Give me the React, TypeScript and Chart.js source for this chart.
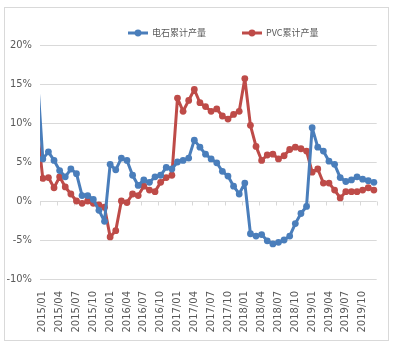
import { useEffect, useRef } from 'react';
import { Chart, registerables } from 'chart.js';

Chart.register(...registerables);

// Categories: leading 2014/12 (partly outside the plot, as in the reference), then 2015/01 .. 2019/12
const MONTHS: string[] = (() => {
  const out: string[] = ['2014/12'];
  for (let y = 2015; y <= 2019; y++) {
    for (let m = 1; m <= 12; m++) out.push(`${y}/${String(m).padStart(2, '0')}`);
  }
  return out;
})();

const SERIES_NAMES = ['电石累计产量', 'PVC累计产量'];
const SERIES_COLORS = ['#4a7ebb', '#be4b48'];

// 电石累计产量 (%)
const CARBIDE: number[] = [
  16.3,
  5.4, 6.3, 5.2, 3.9, 3.1, 4.1, 3.5, 0.7, 0.7, 0.2, -1.2, -2.6,
  4.7, 4.0, 5.5, 5.2, 3.3, 2.0, 2.7, 2.4, 3.1, 3.3, 4.3, 4.1,
  5.0, 5.2, 5.5, 7.8, 6.9, 6.0, 5.4, 4.9, 3.8, 3.2, 1.9, 0.9,
  2.3, -4.2, -4.5, -4.3, -5.1, -5.5, -5.3, -5.0, -4.5, -2.9, -1.6, -0.7,
  9.4, 6.9, 6.4, 5.1, 4.7, 3.0, 2.5, 2.7, 3.1, 2.8, 2.6, 2.4,
];

// PVC累计产量 (%)
const PVC: number[] = [
  9.3,
  2.9, 3.0, 1.7, 3.1, 1.8, 0.9, 0.0, -0.3, 0.0, -0.3, -0.5, -0.8,
  -4.6, -3.8, 0.0, -0.2, 0.9, 0.7, 1.9, 1.4, 1.2, 2.4, 3.0, 3.3,
  13.2, 11.5, 12.9, 14.3, 12.6, 12.1, 11.5, 11.8, 10.9, 10.5, 11.1, 11.5,
  15.7, 9.7, 7.0, 5.2, 5.9, 6.0, 5.4, 5.8, 6.6, 6.9, 6.7, 6.4,
  3.7, 4.1, 2.3, 2.3, 1.4, 0.4, 1.2, 1.2, 1.2, 1.4, 1.7, 1.4,
];

const Y_MIN = -10;
const Y_MAX = 20;
const Y_STEP = 5;
const LABEL_EVERY = 3;

const GRID = '#d9d9d9';
const TEXT = '#595959';

const axisTicksPlugin = {
  id: 'xlAxisTicks',
  beforeDatasetsDraw(chart: any) {
    const xs = chart.scales.x;
    const ys = chart.scales.y;
    const ctx = chart.ctx;
    const half = (xs.getPixelForValue(2) - xs.getPixelForValue(1)) / 2;
    const y0 = Math.round(ys.getPixelForValue(0)) + 0.5;
    ctx.save();
    ctx.strokeStyle = GRID;
    ctx.lineWidth = 1;
    ctx.beginPath();
    for (let i = 1; i <= MONTHS.length; i += LABEL_EVERY) {
      const x = Math.round(xs.getPixelForValue(i) - half) + 0.5;
      ctx.moveTo(x, y0);
      ctx.lineTo(x, y0 + 4);
    }
    ctx.stroke();
    ctx.restore();
  },
};

const legendPlugin = {
  id: 'xlLegend',
  afterDraw(chart: any) {
    const ctx = chart.ctx;
    const y = 33;
    let x = 128;
    ctx.save();
    ctx.font = '9px "Noto Sans CJK SC", sans-serif';
    ctx.textBaseline = 'middle';
    ctx.textAlign = 'left';
    chart.data.datasets.forEach((ds: any) => {
      ctx.strokeStyle = ds.borderColor;
      ctx.fillStyle = ds.borderColor;
      ctx.lineWidth = 3;
      ctx.beginPath();
      ctx.moveTo(x, y);
      ctx.lineTo(x + 20, y);
      ctx.stroke();
      ctx.beginPath();
      ctx.arc(x + 10, y, 3.4, 0, Math.PI * 2);
      ctx.fill();
      ctx.fillStyle = TEXT;
      ctx.fillText(ds.label, x + 24, y);
      x += 24 + ctx.measureText(ds.label).width + 36;
    });
    ctx.restore();
  },
};

export default function App() {
  const ref = useRef<HTMLCanvasElement>(null);

  useEffect(() => {
    const mk = (label: string, data: number[], color: string) => ({
      label,
      data,
      borderColor: color,
      backgroundColor: color,
      borderWidth: 3,
      borderJoinStyle: 'round' as const,
      borderCapStyle: 'round' as const,
      pointRadius: (c: any) => (c.dataIndex === 0 ? 0 : 3.4),
      pointBorderWidth: 0,
      pointBackgroundColor: color,
      pointBorderColor: color,
      tension: 0,
      clip: { left: 0, top: 0, right: 5, bottom: 5 },
    });

    const chart = new Chart(ref.current!, {
      type: 'line',
      data: {
        labels: MONTHS,
        datasets: [
          mk(SERIES_NAMES[0], CARBIDE, SERIES_COLORS[0]),
          mk(SERIES_NAMES[1], PVC, SERIES_COLORS[1]),
        ],
      },
      options: {
        animation: false,
        responsive: true,
        maintainAspectRatio: false,
        layout: { padding: { top: 45, right: 15, left: 0, bottom: 0 } },
        plugins: {
          legend: { display: false },
          tooltip: { enabled: false },
        },
        scales: {
          x: {
            type: 'category',
            min: MONTHS[1],
            offset: true,
            grid: { display: false, drawTicks: false },
            border: { display: false },
            afterFit: (s: any) => {
              s.height = 76;
            },
            ticks: {
              autoSkip: false,
              maxRotation: 90,
              minRotation: 90,
              padding: 12,
              color: TEXT,
              font: { family: '"DejaVu Sans", sans-serif', size: 10 },
              callback: (value: any) => {
                const i = Number(value);
                return (i - 1) % LABEL_EVERY === 0 ? MONTHS[i] : '';
              },
            },
          },
          y: {
            min: Y_MIN,
            max: Y_MAX,
            grid: { color: GRID, drawTicks: false, lineWidth: 1 },
            border: { display: false },
            afterFit: (s: any) => {
              s.width = 40;
            },
            ticks: {
              stepSize: Y_STEP,
              padding: 8,
              color: TEXT,
              font: { family: '"Liberation Sans Narrow", "DejaVu Sans Condensed", sans-serif', size: 11 },
              callback: (v: any) => `${v}%`,
            },
          },
        },
      },
      plugins: [axisTicksPlugin, legendPlugin],
    });
    return () => chart.destroy();
  }, []);

  return (
    <div style={{ position: 'absolute', left: 0, top: 0, width: 398, height: 355, background: '#fff' }}>
      <div
        style={{
          position: 'absolute',
          left: 4,
          top: 7,
          width: 385,
          height: 334,
          border: '1px solid #d9d9d9',
          boxSizing: 'border-box',
        }}
      />
      <div style={{ position: 'absolute', left: 0, top: 0, width: 398, height: 355 }}>
        <canvas ref={ref} />
      </div>
    </div>
  );
}
